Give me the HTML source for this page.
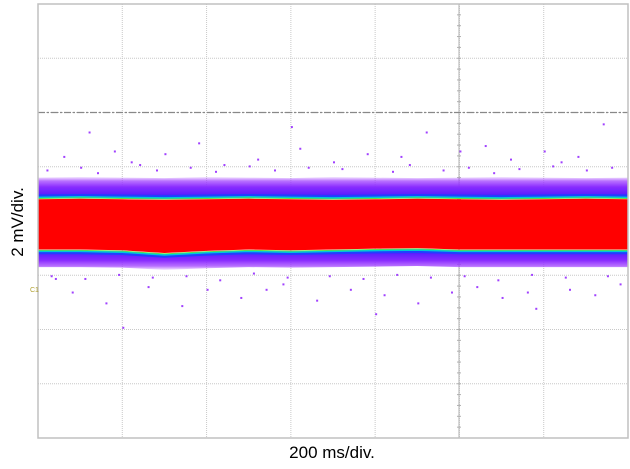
<!DOCTYPE html>
<html><head><meta charset="utf-8"><style>
html,body{margin:0;padding:0;background:#fff;width:630px;height:469px;overflow:hidden}
svg{display:block}
text{font-family:"Liberation Sans",sans-serif;fill:#000}
</style></head><body>
<svg id="chart" width="630" height="469">
<defs>
<linearGradient id="topFringe" x1="0" y1="0" x2="0" y2="1">
<stop offset="0" stop-color="#a848ff" stop-opacity="0.15"/>
<stop offset="0.2" stop-color="#a040ff" stop-opacity="0.75"/>
<stop offset="0.5" stop-color="#8a2cff" stop-opacity="1"/>
<stop offset="0.85" stop-color="#6020ff" stop-opacity="1"/>
<stop offset="1" stop-color="#3018ff" stop-opacity="1"/>
</linearGradient>
<linearGradient id="botFringe" x1="0" y1="1" x2="0" y2="0">
<stop offset="0" stop-color="#a848ff" stop-opacity="0.15"/>
<stop offset="0.2" stop-color="#a040ff" stop-opacity="0.75"/>
<stop offset="0.5" stop-color="#8a2cff" stop-opacity="1"/>
<stop offset="0.85" stop-color="#6020ff" stop-opacity="1"/>
<stop offset="1" stop-color="#3018ff" stop-opacity="1"/>
</linearGradient>
</defs>
<g id="grid"></g>
<g id="marks"></g>
<g id="dots"></g>
<g id="frame"></g>
<text x="332" y="458" font-size="17" text-anchor="middle">200 ms/div.</text>
<text x="0" y="0" font-size="17" text-anchor="middle" transform="translate(23,222) rotate(-90)">2 mV/div.</text>
<text x="30" y="292" font-size="7" fill="#b0a030" style="fill:#b0a030">C1</text>
</svg>
<script>
// time in divisions (0..7), voltage in mV (2 mV/div, -8..+8)
const times = [0,0.5,1,1.5,2,2.5,3,3.5,4,4.5,5,5.5,6,6.5,7];
const redTop = [0.80,0.82,0.80,0.78,0.80,0.82,0.80,0.78,0.80,0.82,0.80,0.78,0.80,0.82,0.80];
const redBottom = [-1.05,-1.05,-1.08,-1.18,-1.10,-1.05,-1.08,-1.05,-1.02,-1.00,-1.05,-1.05,-1.05,-1.05,-1.05];
const fringeTop = [1.60,1.62,1.60,1.58,1.62,1.60,1.58,1.62,1.60,1.58,1.60,1.62,1.60,1.58,1.60];
const fringeBottom = [-1.70,-1.70,-1.72,-1.80,-1.74,-1.70,-1.72,-1.70,-1.68,-1.66,-1.70,-1.70,-1.70,-1.70,-1.70];
const outT = [0.3,0.6,0.9,1.1,1.5,1.9,2.2,2.6,3.1,3.5,3.9,4.3,4.6,5.0,5.3,5.6,6.0,6.4,6.7,0.4,0.8,1.3,1.7,2.0,2.4,2.9,3.3,3.7,4.1,4.5,4.9,5.2,5.5,5.9,6.3,6.6,6.9,1.0,2.7,4.0,5.8,0.2,3.0,6.2,
 0.1,0.5,0.7,1.2,1.4,1.8,2.1,2.5,2.8,3.2,3.6,4.2,4.4,4.8,5.1,5.4,5.7,6.1,6.5,6.8,0.15,0.55,0.95,1.35,1.75,2.15,2.55,2.95,3.45,3.85,4.25,4.65,5.05,5.45,5.85,6.25,6.75];
const outV = [2.4,3.3,2.6,2.2,2.5,2.9,2.1,2.3,2.7,2.2,2.5,2.4,3.3,2.6,2.8,2.3,2.6,2.4,3.6,-2.6,-3.0,-2.4,-3.1,-2.5,-2.8,-2.3,-2.9,-2.5,-2.7,-3.0,-2.6,-2.4,-2.8,-3.2,-2.5,-2.7,-2.3,-3.9,-2.5,-3.4,-2.6,-2.1,3.5,2.2,
 1.9,2.0,1.8,2.1,1.9,2.0,1.85,2.05,1.9,2.0,1.95,1.85,2.1,1.9,2.0,1.8,1.95,2.05,1.9,2.0,-2.0,-2.1,-1.95,-2.05,-2.0,-2.15,-1.9,-2.05,-2.0,-2.1,-1.95,-2.05,-2.0,-2.15,-1.95,-2.05,-2.0];
const xTicks = [0,1,2,3,4,5,6,7];
const yTicks = [-8,-6,-4,-2,0,2,4,6,8];

const NS="http://www.w3.org/2000/svg";
const X0=38,X1=628,Y0=4,Y1=438;
const xs=t=>X0+(t/7)*(X1-X0);
const ys=v=>Y0+(8-v)/16*(Y1-Y0);
function mk(tag,attrs,parent){const e=document.createElementNS(NS,tag);for(const k in attrs)e.setAttribute(k,attrs[k]);parent.appendChild(e);return e;}
const grid=document.getElementById('grid'),marks=document.getElementById('marks'),dots=document.getElementById('dots'),frame=document.getElementById('frame');

xTicks.forEach(t=>{const l=mk('line',{x1:xs(t),x2:xs(t),y1:Y0,y2:Y1,stroke:'#c8c8c8','stroke-width':1,'stroke-dasharray':'1,1'},grid);

});
yTicks.forEach(v=>{const l=mk('line',{x1:X0,x2:X1,y1:ys(v),y2:ys(v),stroke:'#c8c8c8','stroke-width':1,'stroke-dasharray':'1,1'},grid);

});
const tx=459;
const tl=mk('line',{x1:tx,x2:tx,y1:Y0,y2:Y1,stroke:'#b0b0b0','stroke-width':1},grid);


for(let i=0;i<40;i++){const y=Y0+i*(Y1-Y0)/40;mk('line',{x1:tx-2,x2:tx+2,y1:y,y2:y,stroke:'#b0b0b0','stroke-width':1},grid);}
const dd=mk('line',{x1:X0,x2:X1,y1:ys(4),y2:ys(4),stroke:'#888','stroke-width':1.3,'stroke-dasharray':'7,2,2,2'},grid);



function band(top,bot,dt,db){let p=[];times.forEach((t,i)=>p.push(xs(t)+','+(ys(top[i])+dt)));for(let i=times.length-1;i>=0;i--)p.push(xs(times[i])+','+(ys(bot[i])+db));return p.join(' ');}
function edge(arr,off){return times.map((t,i)=>xs(t)+','+(ys(arr[i])+off)).join(' ');}
const ft=mk('polygon',{points:band(fringeTop,redTop,0,-3),fill:'url(#topFringe)'},marks);


const fb=mk('polygon',{points:band(redBottom,fringeBottom,3,0),fill:'url(#botFringe)'},marks);


[['#2040ff',-3.5,2.5],['#00c8d8',-1.8,1.8],['#60e040',-0.8,0.9]].forEach(([c,o,w])=>{
const a=mk('polyline',{points:edge(redTop,o),fill:'none',stroke:c,'stroke-width':w},marks);


const b=mk('polyline',{points:edge(redBottom,-o),fill:'none',stroke:c,'stroke-width':w},marks);

});
const core=mk('polygon',{points:band(redTop,redBottom,0,0),fill:'#ff0000'},marks);



outT.forEach((t,i)=>{const r=mk('rect',{x:xs(t),y:ys(outV[i]),width:2,height:2,fill:'#a040ff'},dots);

});

const fr=mk('rect',{x:X0,y:Y0,width:X1-X0,height:Y1-Y0,fill:'none',stroke:'#c0c0c0','stroke-width':1.5},frame);


</script>
</body></html>
